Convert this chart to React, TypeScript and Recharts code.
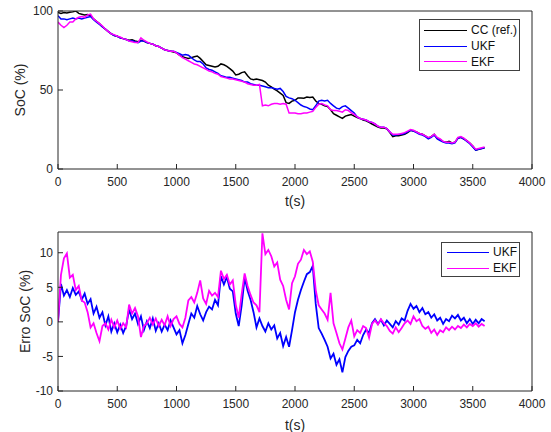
import React from 'react';
import { LineChart, Line, XAxis, YAxis, Legend } from 'recharts';

const FONT = '"Liberation Sans", Arial, Helvetica, sans-serif';
const AX = '#262626';

const socCC = [
  99, 98.5, 99, 98.8, 99.2, 99.5, 100, 98.5, 98, 97.5,
  97.8, 97, 95, 93.5, 92, 90, 88.5, 87, 85.5, 84.5,
  84, 83, 82.5, 82, 81.5, 81.8, 81, 80.5, 81.5, 81,
  80, 79.5, 79, 78, 77.5, 76.5, 75.5, 75, 74.5, 74,
  73.5, 72, 71, 70.5, 70, 70.5, 71, 71.5, 70, 68,
  66, 65.5, 65, 64.5, 65, 66.5, 66, 65, 63.5, 62,
  59.5, 60, 61, 61.5, 59, 57, 56.5, 57, 56.5, 56,
  55, 53, 52, 50.5, 49.5, 48, 46.5, 42, 41.5, 43,
  43.5, 45, 45, 44.8, 45.5, 45.2, 45.5, 43, 41.5, 41,
  40, 39.5, 37.5, 35, 34, 33, 32, 33.5, 34, 34.5,
  33.5, 32.5, 32, 31, 30.5, 29.5, 28.5, 27.5, 26.5, 26,
  26, 25.5, 23, 20.5, 21, 21, 21.5, 22, 23, 24.5,
  24, 23.5, 22.5, 22, 21, 19.5, 20.5, 22, 19.5, 18.5,
  17.5, 17, 17.5, 16.5, 17, 19.5, 20, 19, 18, 16.5,
  14.5, 12, 12.5, 13, 13.5,
];

const socUKF = [
  97, 95, 95, 94.5, 95, 95.5, 95, 95.5, 95, 95.5,
  96, 96.5, 94.5, 93, 91.5, 90, 88.5, 87, 85.5, 84.5,
  84, 83, 82.5, 82, 81, 81.2, 80.5, 80, 81, 81,
  80, 79.5, 79, 78, 77.5, 76.5, 75.5, 75, 74.5, 74.5,
  73.8, 73, 72, 72.5, 72, 70.5, 69, 68, 68, 66.5,
  64, 63, 62.5, 61.5, 60.5, 59, 58.5, 58, 58, 57.5,
  57, 56.5, 56, 55, 55, 54, 53.5, 53, 53, 52.5,
  52, 51.5, 51.5, 51, 50.5, 51, 49, 46, 45, 44.5,
  43.5, 42, 40.5, 39.5, 39, 38, 37.5, 40, 43, 43.5,
  43, 43.5, 41.5, 40, 38.5, 38, 39.5, 40, 38.5, 37,
  35.5, 33, 32, 31.5, 31, 30, 29.5, 28.5, 27, 26.5,
  26.5, 25.5, 23.5, 21.5, 21.5, 21.8, 22, 22.5, 23.5, 24.5,
  24, 23, 22, 21.5, 20.5, 19, 20, 21.5, 19, 18,
  17, 16.5, 16.5, 16, 16.5, 19.5, 20, 19, 17.5, 16,
  14, 12, 12.5, 13, 13.5,
];

const socEKF = [
  93, 91, 89.5, 91, 93, 93, 95, 96, 96.5, 96,
  97.5, 98, 95, 93.5, 92, 90.5, 88.5, 87, 85.5, 85,
  84, 83.5, 82.5, 82, 81, 80.5, 80, 80, 83, 81.5,
  80.5, 79.5, 79, 78, 77.5, 76.5, 75.5, 75, 74.5, 74.5,
  73.5, 72, 70.5, 69.5, 68.5, 67.5, 66.5, 66, 65, 64,
  63, 62, 61.5, 60.5, 60, 58.5, 58, 57.5, 57, 57,
  56.5, 56, 55.5, 55, 54, 53.5, 53, 53, 53.5, 40,
  40.5, 40, 41, 41.5, 41.5, 41, 41.5, 41, 35.5, 35.5,
  35.5, 35, 35, 35.5, 35.5, 36, 36.5, 39, 41, 41.5,
  40.5, 40, 37.5, 37, 37, 36.5, 36, 37.5, 37, 35.5,
  34.5, 33, 32, 31.5, 31, 30, 29.5, 28.5, 27, 26.5,
  26.5, 25.5, 23.5, 22, 22, 22, 22.5, 23, 24, 25,
  24.5, 23.5, 22.5, 22, 21, 20, 20.5, 22, 20, 19,
  17.5, 17, 17, 16.5, 17, 20, 20.5, 19.5, 18, 16.5,
  14.5, 12.5, 13, 13.5, 14,
];

const errUKF = [
  0, 5.5, 3.8, 4.6, 3.6, 4.9, 3.9, 4.4, 3.2, 4.1,
  2.6, 3.3, 1.2, 2.2, 0.6, 1.4, -0.5, 0.8, -1.4, -0.2,
  -1.5, -0.4, -1.6, -0.6, 1.8, 0.4, 1.2, -0.3, 0.8, -1.2,
  0.1, -0.9, 0.5, -1.3, -0.2, -1.4, -0.4, -1.2, 0.2, -0.8,
  -1.8, -1.2, -3.1, -1.9, -0.3, 1.2, 0.6, 2.3, 1.1, 0.2,
  1.4, 2.2, 1.8, 3.2, 2.4, 6.6, 5.4, 6.5, 4.8, 4.4,
  1.2, -0.6, 2.4, 6.4, 4.5, 3.2, 1.4, -0.8, 0.5, -0.6,
  -1.4, -0.2, -1.1, -0.5, -2.4, -1.6, -3.5, -2.2, -3.6, -1.2,
  1.4, 3.2, 4.6, 5.8, 6.9, 7.2, 8.1, 2.6, -0.9, -1.7,
  -2.6, -3.6, -5.3, -4.6, -6.2, -5.4, -7.3, -5.1, -4.2, -3.6,
  -3.4, -2.6, -3.1, -1.9, -1.1, -1.6, -0.2, 0.4, -0.3, 0.3,
  -0.5, 0.2, -0.3, -0.8, 0.1, -0.4, 0.5, 0.2, 1.6, 2.6,
  1.9, 2.3, 1.4, 2.0, 1.1, 1.4, 0.6, 1.1, 0.2, 0.6,
  -0.3, 0.4, 0.1, 0.9, 0.5, 1.0, 0.2, 0.6, -0.2, 0.4,
  -0.3, 0.3, -0.2, 0.4, 0.1,
];

const errEKF = [
  0, 6.8, 9.2, 9.9, 6.4, 6.8, 4.6, 5.2, 3.1, 2.8,
  1.4, -0.8, -0.2, -1.6, -2.8, -0.6, -0.2, -1.1, 0.3, -0.8,
  0.2, -1.0, -0.2, -0.8, 2.5, 1.2, 2.0, 0.8, -2.2, -0.6,
  -0.2, 0.6, -0.4, 0.5, -0.6, 0.3, -0.5, 0.8, -0.6, 0.4,
  0.8, -0.3, -0.8, 0.6, 3.1, 3.6, 2.8, 4.2, 6.0, 3.4,
  2.6, 4.5, 3.8, 4.2, 3.6, 7.4, 6.2, 6.8, 5.4, 6.0,
  2.5, 0.6, 4.0, 7.0, 5.2, 3.9, 2.8, 2.4, 1.4, 12.8,
  9.8, 10.4, 9.5, 8.0, 8.6, 6.1, 5.2, 3.2, 1.8, 5.6,
  6.6, 8.4, 9.0, 10.4, 9.8, 10.2, 8.7, 4.6, 2.4, 1.8,
  1.2, 0.3, 4.2, -0.2, -1.6, -3.1, -4.0, -2.4, -0.8, 0.2,
  -2.1, -1.2, -1.6, -0.6, -0.9, -2.3, -0.3, 0.2, -0.4, 0.4,
  -0.2, -0.6, -1.3, -1.7, -0.8, -1.5, -0.9, -0.2, 0.2, -0.3,
  0.8, 0.1, 0.4, -0.6, -1.0, -0.7, -1.6, -1.1, -1.9, -1.2,
  -1.5, -0.8, -1.2, -0.7, -1.1, -0.6, -0.9, -0.4, -0.8, -0.3,
  -0.6, -0.2, -0.7, -0.3, -0.6,
];

const timeS = socCC.map((_, i) => i * 25);

const tickX = [0, 500, 1000, 1500, 2000, 2500, 3000, 3500, 4000];
const tickSoC = [0, 50, 100];
const tickErr = [-10, -5, 0, 5, 10];

const socSeries = [
  { key: 'cc', name: 'CC (ref.)', color: '#000000' },
  { key: 'ukf', name: 'UKF', color: '#0000ff' },
  { key: 'ekf', name: 'EKF', color: '#ff00ff' },
];
const errSeries = [
  { key: 'ukf', name: 'UKF', color: '#0000ff' },
  { key: 'ekf', name: 'EKF', color: '#ff00ff' },
];

const socRows = timeS.map((t, i) => ({ t, cc: socCC[i], ukf: socUKF[i], ekf: socEKF[i] }));
const errRows = timeS.map((t, i) => ({ t, ukf: errUKF[i], ekf: errEKF[i] }));

const tickStyle = { fill: AX, fontSize: 12, fontFamily: FONT };

type Item = { key: string; name: string; color: string };

const BoxLegend = ({ items, rowH, padTop, padLeft, lineW }: { items: Item[]; rowH: number; padTop: number; padLeft: number; lineW: number }) => (
  <div
    style={{
      width: '100%', height: '100%', boxSizing: 'border-box', border: '1px solid #404040', background: '#fff',
      paddingTop: padTop, paddingLeft: padLeft, fontFamily: FONT, fontSize: 12, color: '#111',
    }}
  >
    {items.map((s) => (
      <div key={s.key} style={{ display: 'flex', alignItems: 'center', height: rowH }}>
        <span style={{ display: 'inline-block', width: lineW, borderTop: `1.5px solid ${s.color}`, marginRight: 4 }} />
        <span style={{ lineHeight: 1 }}>{s.name}</span>
      </div>
    ))}
  </div>
);

const Panel = ({ data, series, domain, yTicks, yLabel, yLabelOffset, height, margin, xLabelOffset, legendPos, legendProps, lineW }: any) => (
  <LineChart width={551} height={height} data={data} margin={margin}>
    <XAxis
      dataKey="t" type="number" domain={[0, 4000]} ticks={tickX} interval={0} allowDataOverflow
      stroke={AX} tickSize={-5} tickMargin={13} tick={tickStyle} height={40}
      label={{ value: 't(s)', position: 'insideBottom', offset: xLabelOffset, fill: AX, fontSize: 14, fontFamily: FONT }}
    />
    <XAxis
      xAxisId="top" orientation="top" dataKey="t" type="number" domain={[0, 4000]} ticks={tickX} interval={0}
      allowDataOverflow stroke={AX} tickSize={-5} tick={false} height={1}
    />
    <YAxis
      type="number" domain={domain} ticks={yTicks} interval={0} allowDataOverflow
      stroke={AX} tickSize={-5} tickMargin={10} tick={tickStyle} width={40}
      label={{ value: yLabel, angle: -90, position: 'insideLeft', offset: yLabelOffset, style: { textAnchor: 'middle' }, fill: AX, fontSize: 14, fontFamily: FONT }}
    />
    <YAxis
      yAxisId="right" orientation="right" type="number" domain={domain} ticks={yTicks} interval={0}
      allowDataOverflow stroke={AX} tickSize={-5} tick={false} width={1}
    />
    {series.map((s: Item) => (
      <Line key={s.key} dataKey={s.key} name={s.name} stroke={s.color} strokeWidth={lineW} dot={false} isAnimationActive={false} />
    ))}
    <Legend
      layout="vertical" align="center" verticalAlign="middle"
      wrapperStyle={{ ...legendPos, margin: 0 }}
      content={() => <BoxLegend items={series} {...legendProps} />}
    />
  </LineChart>
);

export default function App() {
  return (
    <div style={{ position: 'absolute', left: 0, top: 0, width: 551, height: 432, background: '#fff' }}>
      <div style={{ position: 'absolute', left: 0, top: 0 }}>
        <Panel
          data={socRows} series={socSeries} domain={[0, 100]} yTicks={tickSoC} yLabel="SoC (%)" yLabelOffset={2}
          height={215} margin={{ top: 10, right: 18, bottom: 6, left: 18 }} xLabelOffset={3} lineW={1.5}
          legendPos={{ left: 419, top: 19, width: 101, height: 52 }}
          legendProps={{ rowH: 15.8, padTop: 2.5, padLeft: 4, lineW: 43 }}
        />
      </div>
      <div style={{ position: 'absolute', left: 0, top: 215 }}>
        <Panel
          data={errRows} series={errSeries} domain={[-10, 13]} yTicks={tickErr} yLabel="Erro SoC (%)" yLabelOffset={7}
          height={217} margin={{ top: 16, right: 18, bottom: 1, left: 18 }} xLabelOffset={1} lineW={1.8}
          legendPos={{ left: 441, top: 27, width: 79, height: 35 }}
          legendProps={{ rowH: 16.3, padTop: 1, padLeft: 4.5, lineW: 42.5 }}
        />
      </div>
    </div>
  );
}
